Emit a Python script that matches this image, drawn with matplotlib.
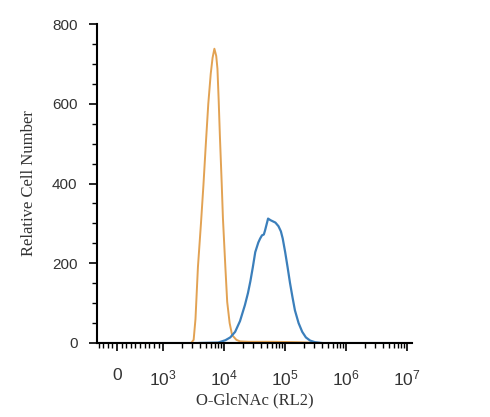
import numpy as np
import matplotlib
matplotlib.use("Agg")
import matplotlib.pyplot as plt
from matplotlib.ticker import FixedLocator, NullFormatter

# histogram outlines: x in log10(intensity), y in cells
orange_logx = [3.30, 3.46, 3.50, 3.53, 3.57, 3.62, 3.66, 3.70, 3.74, 3.78, 3.81,
               3.84, 3.87, 3.89, 3.91, 3.93, 3.96, 3.98, 4.02, 4.05, 4.09, 4.13,
               4.20, 4.26, 4.40, 4.80, 5.20, 5.40, 5.60]
orange_count = [0, 0, 8, 60, 190, 300, 395, 500, 600, 675, 715,
                738, 720, 688, 610, 520, 400, 313, 190, 103, 50, 20,
                8, 4, 3, 3, 2, 1, 0]

blue_logx = [3.60, 3.90, 4.02, 4.10, 4.18, 4.26, 4.34, 4.39, 4.43, 4.47, 4.51,
             4.56, 4.59, 4.62, 4.65, 4.67, 4.70, 4.72, 4.76, 4.80, 4.84, 4.89,
             4.93, 4.96, 5.00, 5.04, 5.08, 5.12, 5.16, 5.22, 5.28, 5.34, 5.41,
             5.49, 5.60]
blue_count = [0, 1, 7, 14, 28, 55, 95, 125, 155, 190, 228,
              252, 262, 270, 272, 282, 300, 312, 308, 305, 302, 293,
              280, 262, 228, 190, 150, 115, 82, 50, 28, 14, 6,
              2, 0]

x_tick_vals = [0, 1e3, 1e4, 1e5, 1e6, 1e7]
x_tick_labels = ["0", "$10^{3}$", "$10^{4}$", "$10^{5}$", "$10^{6}$", "$10^{7}$"]
y_tick_vals = [0, 200, 400, 600, 800]

plt.rcParams["mathtext.fontset"] = "custom"
plt.rcParams["mathtext.rm"] = "Liberation Sans"
plt.rcParams["mathtext.it"] = "Liberation Sans"

fig = plt.figure(figsize=(4.9, 4.17), dpi=100)
ax = fig.add_axes([97 / 490, (417 - 343) / 417, (412 - 97) / 490, (343 - 24) / 417])

ax.plot(10 ** np.array(orange_logx), orange_count, color="#e2a253", lw=1.4)
ax.plot(10 ** np.array(blue_logx), blue_count, color="#3b7fbb", lw=1.6)
ax.axhline(0, color="#1c3350", lw=2.2, zorder=1)

ax.set_xscale("symlog", linthresh=1000, linscale=0.68)
ax.set_xlim(-435, 1.2e7)
ax.set_ylim(0, 800)

ax.xaxis.set_major_locator(FixedLocator(x_tick_vals))
ax.set_xticklabels(x_tick_labels)
minors = [v for v in range(-400, 1000, 100) if v != 0]
for k in range(3, 7):
    minors += [m * 10 ** k for m in range(2, 10)]
ax.xaxis.set_minor_locator(FixedLocator(minors))
ax.xaxis.set_minor_formatter(NullFormatter())

ax.yaxis.set_major_locator(FixedLocator(y_tick_vals))
ax.yaxis.set_minor_locator(FixedLocator(list(range(50, 800, 50))))

ax.tick_params(axis="both", which="major", direction="out", length=6, width=1.2,
               labelsize=11, labelcolor="#333333")
ax.tick_params(axis="both", which="minor", direction="out", length=3.5, width=1.0)
ax.tick_params(axis="x", which="major", pad=12, labelsize=12.5)
ax.tick_params(axis="y", which="major", pad=8)
for lbl in ax.get_yticklabels() + ax.get_xticklabels():
    lbl.set_family("Liberation Sans")

for s in ("top", "right"):
    ax.spines[s].set_visible(False)
ax.spines["left"].set_linewidth(1.5)
ax.spines["bottom"].set_linewidth(1.5)

ax.set_xlabel("O-GlcNAc (RL2)", family="Liberation Serif", fontsize=12,
              color="#333333", labelpad=3)
ax.set_ylabel("Relative Cell Number", family="Liberation Serif", fontsize=12,
              color="#333333", labelpad=11)

fig.savefig("out.png", dpi=100)
